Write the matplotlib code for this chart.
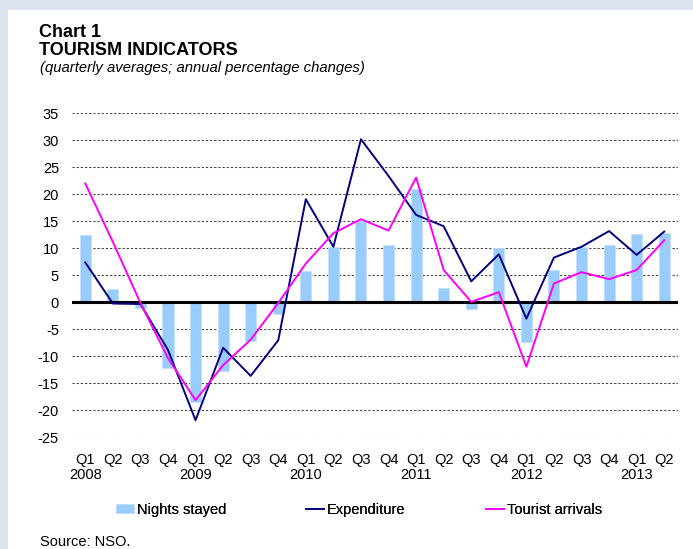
import matplotlib
matplotlib.use("Agg")
import matplotlib.pyplot as plt
from matplotlib.patches import Rectangle
import matplotlib.transforms as mtransforms
import numpy as np

quarters = ['Q1', 'Q2', 'Q3', 'Q4'] * 5 + ['Q1', 'Q2']
years = ['2008', '2009', '2010', '2011', '2012', '2013']

nights_stayed = [12.5, 2.4, -1.1, -12.2, -18.4, -12.7, -7.2, -2.2, 5.9, 10.3, 15.1, 10.6,
                 20.9, 2.6, -1.3, 10.0, -7.3, 6.0, 10.3, 10.6, 12.6, 12.9]
expenditure = [7.4, -0.2, -0.3, -8.8, -21.8, -8.4, -13.6, -7.0, 19.1, 10.3, 30.2, 23.4,
               16.2, 14.1, 3.9, 8.9, -3.0, 8.3, 10.3, 13.2, 8.8, 13.1]
tourist_arrivals = [22.0, 11.2, -0.1, -10.3, -18.1, -11.6, -6.9, -0.1, 7.2, 12.8, 15.4, 13.3,
                    23.1, 6.0, 0.1, 1.9, -11.9, 3.5, 5.6, 4.3, 6.0, 11.5]

W, H = 693, 549
fig = plt.figure(figsize=(W / 100, H / 100), dpi=100)
fig.patch.set_facecolor('#dbe3ee')
fig.add_artist(Rectangle((8 / W, 0), 1, 1 - 10 / H, transform=fig.transFigure,
                         facecolor='white', edgecolor='none', zorder=0))

plt.rcParams['font.family'] = ['Liberation Sans', 'DejaVu Sans']
FS = 10.5

ax = fig.add_axes([71.5 / W, 1 - 437.5 / H, (678 - 71.5) / W, (437.5 - 113.3) / H])
ax.set_facecolor('none')
x = np.arange(len(quarters))

for yv in range(-25, 40, 5):
    if yv != 0:
        ax.axhline(yv, color='#444444', linewidth=0.75, linestyle=(0, (2.2, 1.8)), zorder=1)

bars = ax.bar(x, nights_stayed, width=0.4, color='#99ccff', edgecolor='#c4e0ff',
              linewidth=0.6, zorder=2, label='Nights stayed')
ax.axhline(0, color='black', linewidth=2.2, zorder=3)
l_exp, = ax.plot(x, expenditure, color='#000080', linewidth=1.4, zorder=4, label='Expenditure')
l_ta, = ax.plot(x, tourist_arrivals, color='#ff00ff', linewidth=1.4, zorder=5, label='Tourist arrivals')

ax.set_xlim(-0.5, len(quarters) - 0.5)
ax.set_ylim(-25, 35)
ax.set_yticks(range(-25, 40, 5))
ax.set_yticklabels([str(v) for v in range(-25, 40, 5)], fontsize=FS)
ax.set_xticks(x)
ax.set_xticklabels(quarters, fontsize=FS)
ax.tick_params(axis='both', length=0)
ax.tick_params(axis='y', pad=9)
ax.tick_params(axis='x', pad=11)
for s in ax.spines.values():
    s.set_visible(False)

trans = mtransforms.blended_transform_factory(ax.transData, fig.transFigure)
q1_idx = [i for i, q in enumerate(quarters) if q == 'Q1']
for i, yr in zip(q1_idx, years):
    ax.text(i, 1 - 479 / H, yr, transform=trans, ha='center', va='baseline', fontsize=FS)

fig.text(39 / W, 1 - 37 / H, 'Chart 1', fontsize=13, fontweight='bold', va='baseline')
fig.text(39 / W, 1 - 55 / H, 'TOURISM INDICATORS', fontsize=13, fontweight='bold', va='baseline')
fig.text(40 / W, 1 - 72 / H, '(quarterly averages; annual percentage changes)', fontsize=10.7,
         style='italic', va='baseline')
fig.text(40 / W, 1 - 546 / H, 'Source: NSO.', fontsize=FS, va='baseline')

ly = 1 - 509.7 / H
for h, lab, lx in [(bars, 'Nights stayed', 116), (l_exp, 'Expenditure', 306),
                   (l_ta, 'Tourist arrivals', 486)]:
    leg = fig.legend(handles=[h], labels=[lab], loc='center left', bbox_to_anchor=(lx / W, ly),
                     frameon=False, fontsize=FS, handlelength=1.25, handleheight=0.5,
                     handletextpad=0.17, borderpad=0, borderaxespad=0)
    fig.add_artist(leg)

fig.savefig('out.png', dpi=100, facecolor=fig.get_facecolor())
